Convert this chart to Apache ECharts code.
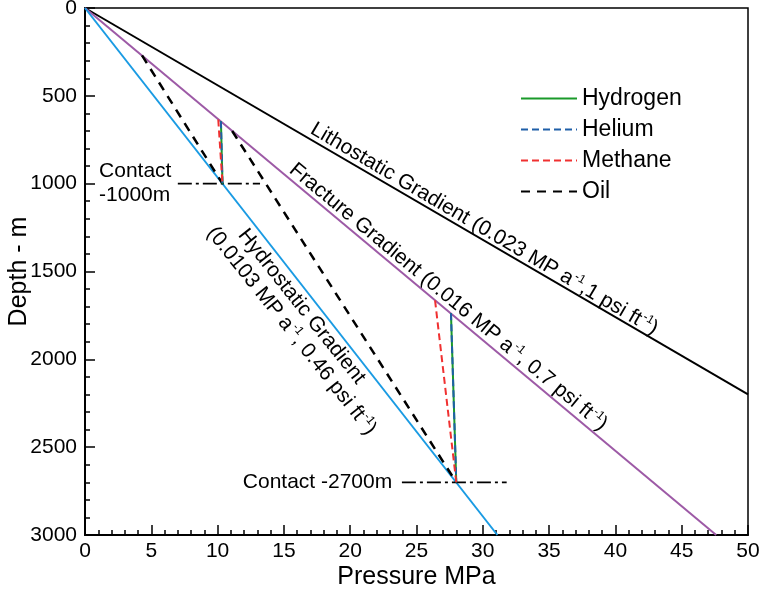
<!DOCTYPE html>
<html>
<head>
<meta charset="utf-8">
<script src="https://cdn.jsdelivr.net/npm/echarts@6/dist/echarts.min.js"></script>
<style>html,body{margin:0;padding:0;background:#fff}#c{width:761px;height:600px}</style>
</head>
<body>
<div id="c"></div>
<script>
// ---- data (Pressure MPa, Depth m) ----
const lithostatic = [[0, 0], [50, 2200]];
const fracture = [[0, 0], [47.6, 3000]];
const hydrostatic = [[0, 0], [31.1, 3000]];
const hydrogen1 = [[10.25, 645], [10.37, 1000]];
const hydrogen2 = [[27.6, 1738], [28.0, 2700]];
const helium1 = [[10.25, 645], [10.37, 1000]];
const helium2 = [[27.6, 1738], [28.0, 2700]];
const methane1 = [[10.05, 635], [10.37, 1000]];
const methane2 = [[26.4, 1665], [28.0, 2700]];
const oil1 = [[4.3, 270], [10.37, 1000]];
const oil2 = [[11.1, 700], [28.0, 2700]];
const contact1 = [[7.0, 1000], [13.2, 1000]];
const contact2 = [[23.9, 2700], [31.8, 2700]];
const legendNames = ['Hydrogen', 'Helium', 'Methane', 'Oil'];
const xName = 'Pressure MPa';
const yName = 'Depth - m';
// annotation texts and their anchor points (data coords) with angle
const annoText = [
  'Lithostatic Gradient (0.023 MP a{s|-1},1 psi ft{s|-1})',
  'Fracture Gradient (0.016 MP a{s|-1}, 0.7 psi ft{s|-1})',
  'Hydrostatic Gradient',
  '(0.0103 MP a{s|-1}, 0.46 psi ft{s|-1})',
  'Contact\n-1000m',
  'Contact -2700m'
];
const annoAt = [[30.1, 1258], [27.4, 1645], [16.33, 1699], [15.57, 1838], [1.06, 1000], [11.9, 2700]];
const annoRot = [-30.5, -39.7, -51.5, -51.5, 0, 0];
const annoAlign = ['center', 'center', 'center', 'center', 'left', 'left'];

const FONT = 'Liberation Sans, Arial, sans-serif';
const chart = echarts.init(document.getElementById('c'), null, {renderer: 'canvas'});

function ln(name, data, color, type, width, z) {
  return {
    type: 'line', name: name, data: data, symbol: 'none', showSymbol: false,
    lineStyle: {color: color, type: type, width: width}, itemStyle: {color: color},
    z: z || 2, animation: false, silent: true, legendHoverLink: false
  };
}

const annoData = annoText.map((t, i) => ({
  value: annoAt[i],
  label: {
    show: true, formatter: t, rotate: annoRot[i], align: annoAlign[i],
    position: 'inside', verticalAlign: 'middle'
  }
}));

const option = {
  backgroundColor: '#fff',
  animation: false,
  grid: {left: 85, right: 13, top: 8, bottom: 65, show: true, borderColor: '#000', borderWidth: 1.5,
         backgroundColor: 'transparent', containLabel: false, outerBoundsMode: 'none'},
  legend: {
    data: legendNames, orient: 'vertical', left: 520, top: 87, padding: 0,
    itemWidth: 56, itemHeight: 18, itemGap: 8, itemTextGap: 16,
    itemStyle: {opacity: 0},
    textStyle: {fontFamily: FONT, fontSize: 23, color: '#000'},
    selectedMode: false
  },
  xAxis: {
    type: 'value', min: 0, max: 50, interval: 5,
    name: xName, nameLocation: 'middle', nameGap: 30, nameMoveOverlap: false,
    nameTextStyle: {fontFamily: FONT, fontSize: 25, color: '#000'},
    axisLine: {show: true, onZero: false, lineStyle: {color: '#000', width: 2}},
    axisTick: {show: true, inside: true, length: 10, lineStyle: {color: '#000', width: 1.5}},
    minorTick: {show: true, splitNumber: 5, length: 5, lineStyle: {color: '#000', width: 1.5}},
    axisLabel: {fontFamily: FONT, fontSize: 21, color: '#000', margin: 6, formatter: v => String(v)},
    splitLine: {show: false}
  },
  yAxis: {
    type: 'value', min: 0, max: 3000, interval: 500, inverse: true,
    name: yName, nameLocation: 'middle', nameGap: 53, nameRotate: 90, nameMoveOverlap: false,
    nameTextStyle: {fontFamily: FONT, fontSize: 25, color: '#000'},
    axisLine: {show: true, onZero: false, lineStyle: {color: '#000', width: 2}},
    axisTick: {show: true, inside: true, length: 10, lineStyle: {color: '#000', width: 1.5}},
    minorTick: {show: true, splitNumber: 5, length: 5, lineStyle: {color: '#000', width: 1.5}},
    axisLabel: {fontFamily: FONT, fontSize: 21, color: '#000', margin: 8, formatter: v => String(v)},
    splitLine: {show: false}
  },
  series: [
    ln('Lithostatic', lithostatic, '#000', 'solid', 2),
    ln('Fracture', fracture, '#9d5aa6', 'solid', 2),
    ln('Hydrostatic', hydrostatic, '#1a9be3', 'solid', 2),
    ln('Oil', oil1, '#000', [9, 7], 2.5),
    ln('Oil', oil2, '#000', [9, 7], 2.5),
    ln('Contact1', contact1, '#000', [14, 4, 3, 4], 1.8),
    ln('Contact2', contact2, '#000', [14, 4, 3, 4], 1.8),
    ln('Hydrogen', hydrogen1, '#1a9a2a', 'solid', 2, 3),
    ln('Hydrogen', hydrogen2, '#1a9a2a', 'solid', 2, 3),
    ln('Helium', helium1, '#1f5fa8', [7, 4], 2, 4),
    ln('Helium', helium2, '#1f5fa8', [7, 4], 2, 4),
    ln('Methane', methane1, '#f03030', [7, 4], 2, 4),
    ln('Methane', methane2, '#f03030', [7, 4], 2, 4),
    {
      type: 'scatter', name: 'annotations', data: annoData, symbolSize: 0,
      itemStyle: {color: '#000'},
      silent: true, animation: false, z: 5,
      label: {
        show: true, fontFamily: FONT, fontSize: 21, color: '#000', lineHeight: 24,
        textBorderWidth: 0, textBorderColor: 'transparent', opacity: 1,
        rich: {s: {fontFamily: FONT, fontSize: 12, color: '#000', textBorderWidth: 0, verticalAlign: 'top', lineHeight: 12, padding: [0, 0, 10, 1]}}
      }
    }
  ]
};
chart.setOption(option);
</script>
</body>
</html>
